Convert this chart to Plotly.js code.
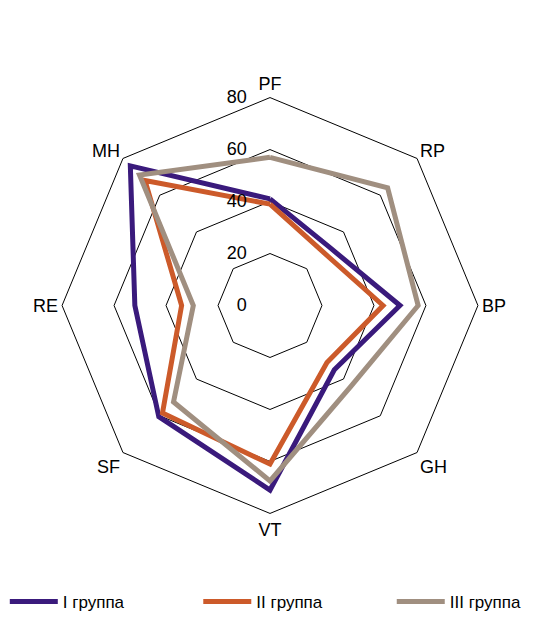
<!DOCTYPE html>
<html>
<head>
<meta charset="utf-8">
<script src="https://cdn.plot.ly/plotly-3.0.1.min.js"></script>
<style>html,body{margin:0;padding:0;background:#fff;}#chart{width:533px;height:620px;}</style>
</head>
<body>
<div id="chart"></div>
<script>
const categories = ["PF", "RP", "BP", "GH", "VT", "SF", "RE", "MH"];
const seriesNames = ["I группа", "II группа", "III группа"];
const group1 = [41, 32, 50, 35, 71, 60.5, 52, 76];
const group2 = [39, 29, 43.5, 31, 61, 58.5, 34, 68];
const group3 = [57, 64, 57, 44, 67.5, 52.5, 29.5, 71];
const radialTicks = [0, 20, 40, 60, 80];
const colors = ["#3a1a7c", "#cc5a2a", "#a08f80"];

const font = "'Liberation Sans', Arial, sans-serif";
const legendIds = ["legend", "legend2", "legend3"];
const legendX = [0.009, 0.372, 0.735];
const allSeries = [group1, group2, group3];
const traces = allSeries.map((vals, i) => ({
  type: "scatterpolar",
  mode: "lines",
  r: vals.concat([vals[0]]),
  theta: categories.concat([categories[0]]),
  name: seriesNames[i],
  legend: legendIds[i],
  line: {color: colors[i], width: 5},
  hoverinfo: "skip"
}));

const legendStyle = (x) => ({
  orientation: "h", x: x, xanchor: "left", y: 0.015, yanchor: "middle",
  bgcolor: "rgba(0,0,0,0)",
  font: {family: font, size: 17, color: "#000"},
  itemwidth: 48
});

const layout = {
  width: 533, height: 620,
  margin: {l: 0, r: 0, t: 0, b: 0},
  paper_bgcolor: "#fff",
  font: {family: font, size: 18, color: "#000"},
  showlegend: true,
  legend: legendStyle(legendX[0]),
  legend2: legendStyle(legendX[1]),
  legend3: legendStyle(legendX[2]),
  polar: {
    domain: {x: [59/533, 481/533], y: [99/620, 521/620]},
    bgcolor: "#fff",
    gridshape: "linear",
    angularaxis: {
      direction: "clockwise", rotation: 90,
      showgrid: false, showline: true, linecolor: "#000", linewidth: 1,
      ticks: "", tickfont: {family: font, size: 18, color: "#000"}
    },
    radialaxis: {
      range: [0, 80], tickvals: radialTicks,
      ticktext: radialTicks.map(v => String(v) + "\u00a0\u00a0\u00a0\u00a0"),
      angle: 90, side: "counterclockwise", tickangle: 90,
      showline: false, ticks: "", showgrid: true,
      gridcolor: "#000", gridwidth: 1,
      tickfont: {family: font, size: 18, color: "#000"}
    }
  }
};

Plotly.newPlot("chart", traces, layout, {displayModeBar: false, staticPlot: true});
</script>
</body>
</html>
